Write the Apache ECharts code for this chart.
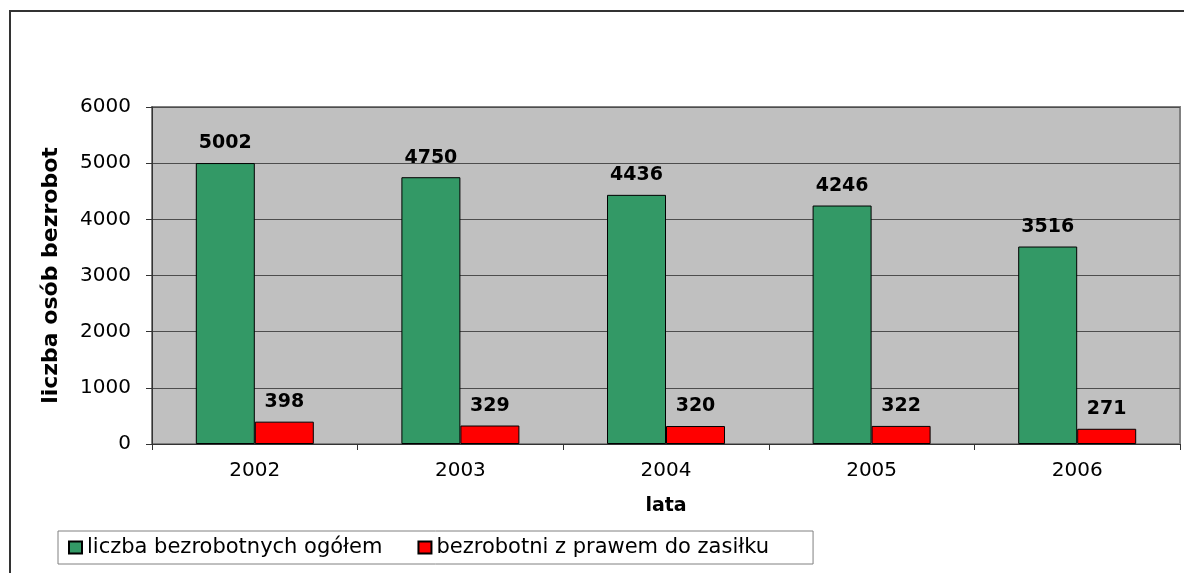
<!DOCTYPE html>
<html>
<head>
<meta charset="utf-8">
<script src="https://cdn.jsdelivr.net/npm/echarts@6/dist/echarts.min.js"></script>
<style>
  html, body { margin: 0; padding: 0; background: #fff; overflow: hidden; }
  #chart { width: 1184px; height: 573px; }
  /* ramka wykresu - tylko lewa i górna krawędź */
  #frame {
    position: absolute; left: 9px; top: 10px; width: 1200px; height: 600px;
    border-top: 2px solid #333; border-left: 2px solid #333;
    pointer-events: none;
  }
</style>
</head>
<body>
<div id="chart"></div>
<div id="frame"></div>
<script>
// lata
const years = ['2002', '2003', '2004', '2005', '2006']
// liczba bezrobotnych ogółem
const totalUnemployed = [5002, 4750, 4436, 4246, 3516]
// bezrobotni z prawem do zasiłku
const withBenefit = [398, 329, 320, 322, 271]

const font = 'DejaVu Sans'

const chart = echarts.init(document.getElementById('chart'))
chart.setOption({
  backgroundColor: '#fff',
  animation: false,
  grid: {
    left: 152,
    right: 4,
    top: 107,
    bottom: 129,
    show: true,
    backgroundColor: '#c0c0c0',
    borderColor: '#808080',
    borderWidth: 2
  },
  legend: {
    left: 58,
    top: 531,
    orient: 'horizontal',
    icon: 'rect',
    itemWidth: 13,
    itemHeight: 12,
    itemGap: 35,
    padding: [6, 44, 6, 10],
    borderColor: '#808080',
    borderWidth: 1,
    textStyle: {
      fontFamily: font,
      fontSize: 21,
      color: '#000'
    },
    data: ['liczba bezrobotnych ogółem', 'bezrobotni z prawem do zasiłku']
  },
  xAxis: {
    type: 'category',
    data: years,
    name: 'lata',
    nameLocation: 'middle',
    nameGap: 53,
    nameTextStyle: {
      fontFamily: font,
      fontSize: 19,
      fontWeight: 'bold',
      color: '#000'
    },
    axisLine: { lineStyle: { color: '#333', width: 1 } },
    axisTick: { show: true, length: 6, lineStyle: { color: '#333' } },
    axisLabel: {
      fontFamily: font,
      fontSize: 20,
      color: '#000',
      margin: 17
    }
  },
  yAxis: {
    type: 'value',
    min: 0,
    max: 6000,
    interval: 1000,
    name: 'liczba osób bezrobot',
    nameLocation: 'middle',
    nameGap: 90,
    nameRotate: 90,
    nameTextStyle: {
      fontFamily: font,
      fontSize: 22,
      fontWeight: 'bold',
      color: '#000'
    },
    axisLine: { show: true, lineStyle: { color: '#333', width: 1 } },
    axisTick: { show: true, length: 6, lineStyle: { color: '#333' } },
    splitLine: { show: true, lineStyle: { color: '#4d4d4d', width: 1 } },
    axisLabel: {
      fontFamily: font,
      fontSize: 20,
      color: '#000',
      margin: 21,
      formatter: v => String(v)
    }
  },
  series: [{
    name: 'liczba bezrobotnych ogółem',
    type: 'bar',
    barWidth: 59,
    barGap: '0%',
    itemStyle: { color: '#339966', borderColor: '#000', borderWidth: 1 },
    label: {
      show: true,
      position: 'top',
      distance: 10,
      fontFamily: font,
      fontSize: 19,
      fontWeight: 'bold',
      color: '#000'
    },
    data: totalUnemployed
  }, {
    name: 'bezrobotni z prawem do zasiłku',
    type: 'bar',
    barWidth: 59,
    barGap: '0%',
    itemStyle: { color: '#ff0000', borderColor: '#000', borderWidth: 1 },
    label: {
      show: true,
      position: 'top',
      distance: 10,
      fontFamily: font,
      fontSize: 19,
      fontWeight: 'bold',
      color: '#000'
    },
    data: withBenefit
  }]
})
</script>
</body>
</html>
